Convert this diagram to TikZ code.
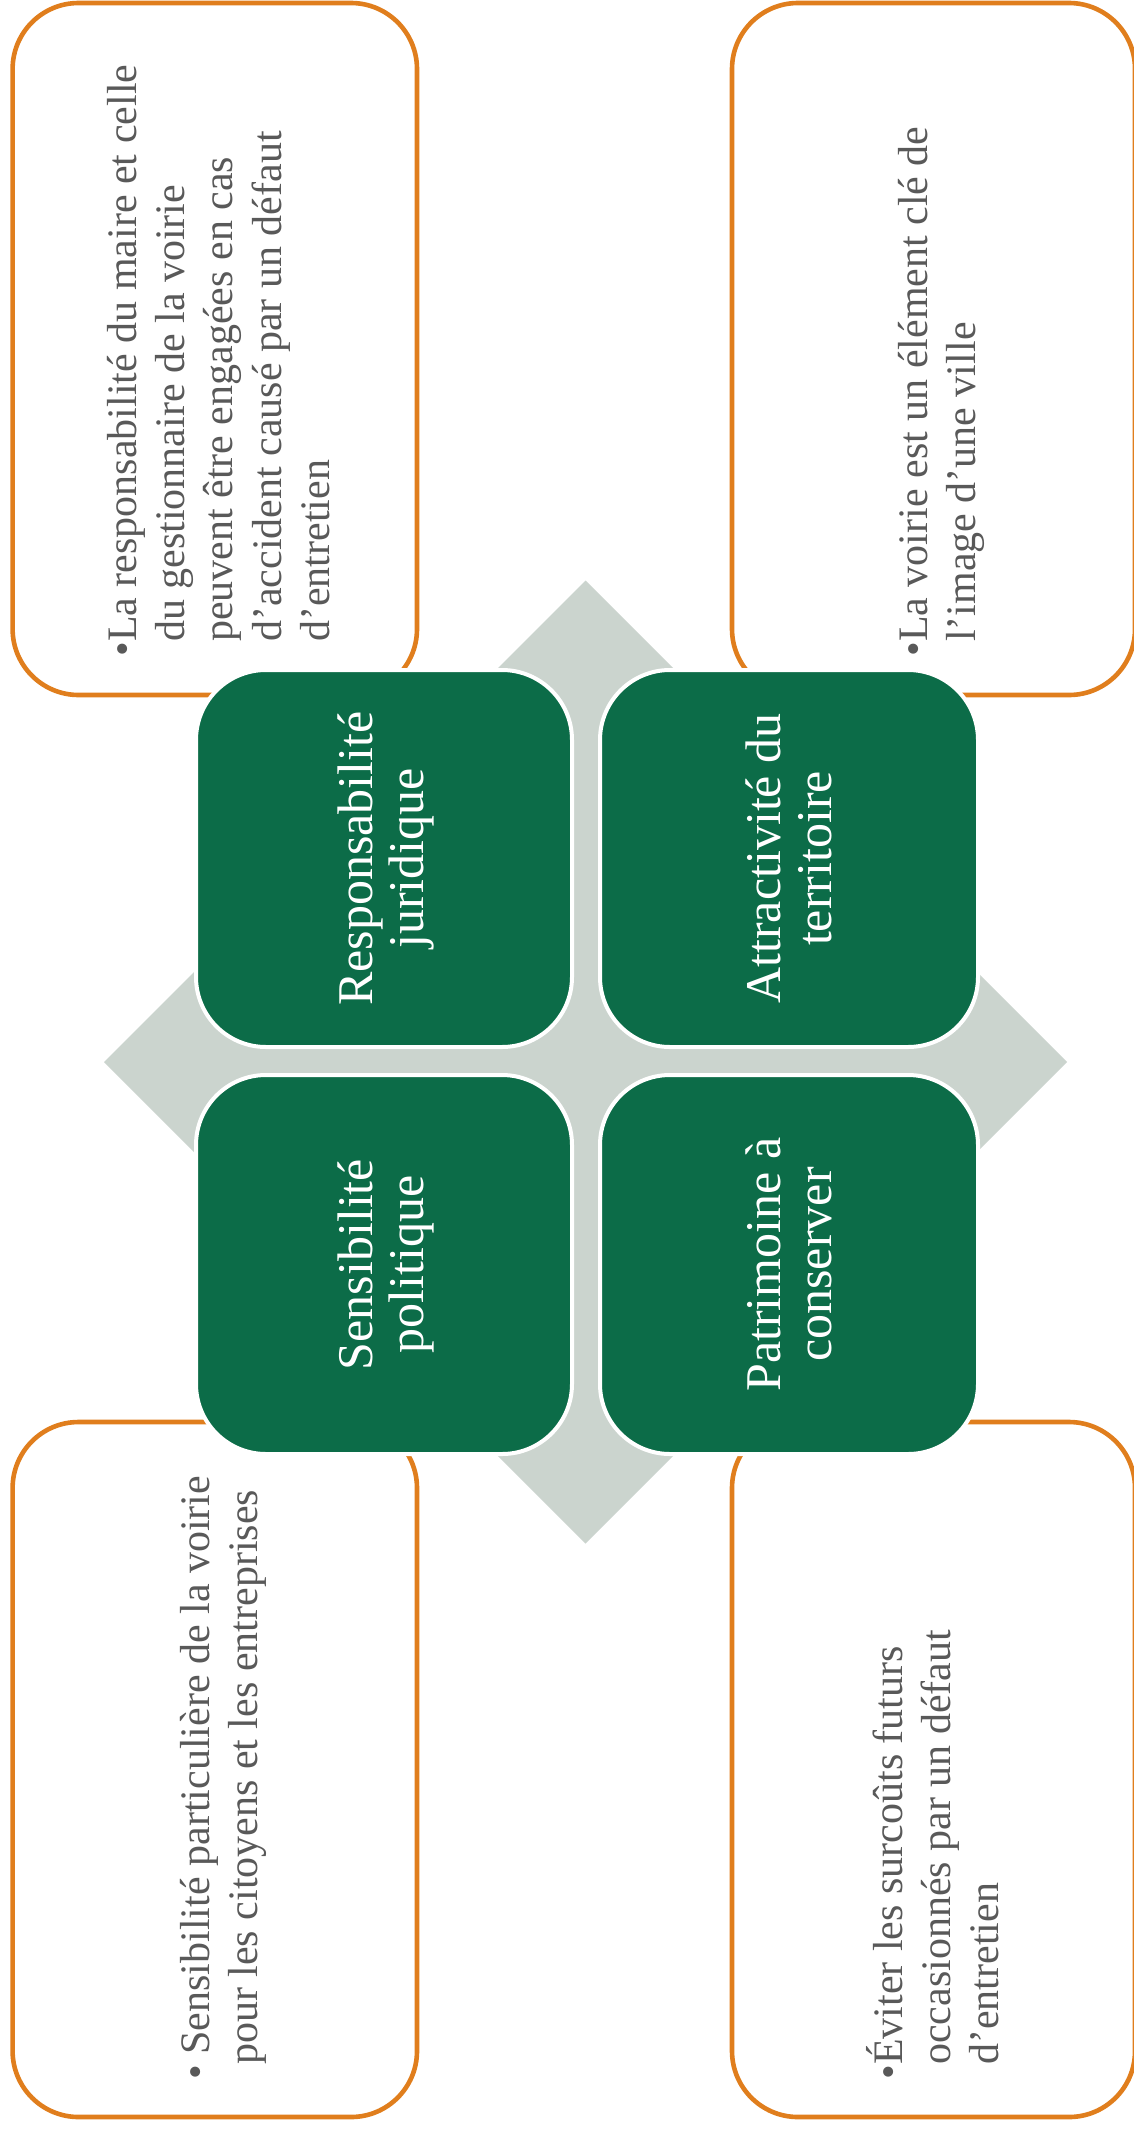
\documentclass[tikz,border=0pt]{standalone}
\usepackage{fontspec}
\setmainfont{Liberation Serif}
\definecolor{orangeC}{RGB}{224,126,29}
\definecolor{greenC}{RGB}{12,108,72}
\definecolor{diamC}{RGB}{203,212,206}
\definecolor{grayT}{RGB}{89,89,89}
\begin{document}
\begin{tikzpicture}[x=0.5pt,y=-0.5pt,
  obox/.style={draw=orangeC, line width=2.3pt, fill=white, rounded corners=33pt},
  gbox/.style={draw=white, line width=2pt, fill=greenC, rounded corners=35pt},
  graytext/.style={rotate=90, anchor=base west, inner sep=0pt, text=grayT,
    font=\fontsize{21}{24.2}\selectfont},
  greentext/.style={rotate=90, inner sep=0pt, text=white, align=center,
    font=\fontsize{25}{25.5}\selectfont}]
\useasboundingbox (0,0) rectangle (1134,2130);
% outer orange boxes
\draw[obox] (12.6,3) rectangle (417,695);
\draw[obox] (732,3) rectangle (1135,695);
\draw[obox] (12.6,1422) rectangle (417,2117);
\draw[obox] (732,1422) rectangle (1135,2117);
% background diamond
\fill[diamC] (585.5,580.5) -- (1067,1062) -- (585.5,1543.5) -- (104,1062) -- cycle;
% green boxes
\draw[gbox] (196,670) rectangle (572,1047);
\draw[gbox] (600,670) rectangle (978,1047);
\draw[gbox] (196,1075) rectangle (572,1454);
\draw[gbox] (600,1075) rectangle (978,1454);
% green labels
\node[greentext] (g1) at (386,858.5) {Responsabilité\\juridique};
\node[greentext] (g2) at (789,858.5) {Attractivité du\\territoire};
\node[greentext] (g3) at (386,1264.5) {Sensibilité\\politique};
\node[greentext] (g4) at (789,1264.5) {Patrimoine à\\conserver};
% gray texts
\node[graytext] (t1) at (136,657) {\begin{tabular}[t]{@{}l@{}l@{}}•&La responsabilité du maire et celle\\&du gestionnaire de la voirie\\&peuvent être engagées en cas\\&d’accident causé par un défaut\\&d’entretien\end{tabular}};
\node[graytext] (t2) at (927,657) {\begin{tabular}[t]{@{}l@{}l@{}}•&La voirie est un élément clé de\\&l’image d’une ville\end{tabular}};
\node[graytext] (t3) at (209,2080) {\begin{tabular}[t]{@{}l@{}l@{}}•&\ Sensibilité particulière de la voirie\\&pour les citoyens et les entreprises\end{tabular}};
\node[graytext] (t4) at (902,2080) {\begin{tabular}[t]{@{}l@{}l@{}}•&Éviter les surcoûts futurs\\&occasionnés par un défaut\\&d’entretien\end{tabular}};
\end{tikzpicture}
\end{document}
